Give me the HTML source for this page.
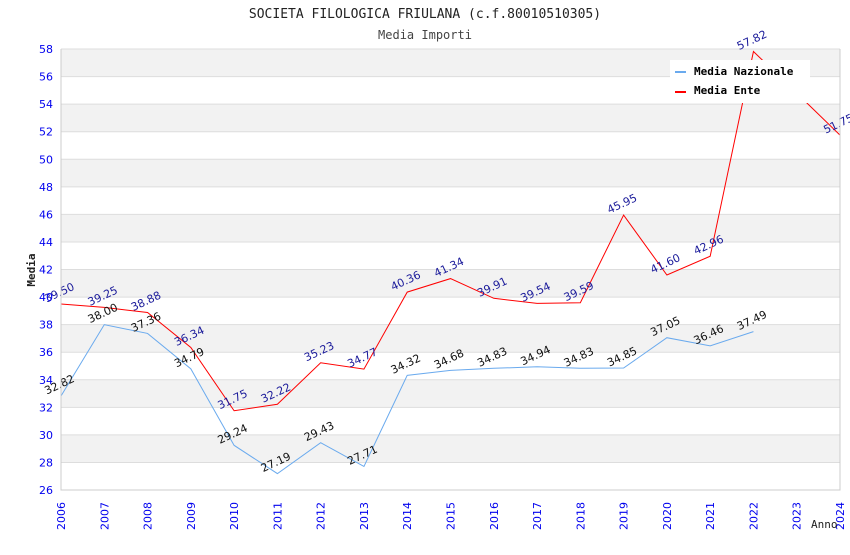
<!DOCTYPE html>
<html><head><meta charset="utf-8"><style>
body{margin:0;background:#fff;}
svg text{font-family:"DejaVu Sans Mono","Liberation Mono",monospace;}
svg text.sans{font-family:"DejaVu Sans","Liberation Sans",sans-serif;}
</style></head><body>
<svg id="chart" width="850" height="550" xmlns="http://www.w3.org/2000/svg">
<text x="425" y="18" text-anchor="middle" font-size="13" fill="#222">SOCIETA FILOLOGICA FRIULANA (c.f.80010510305)</text>
<text x="425" y="39" text-anchor="middle" font-size="12" fill="#444">Media Importi</text>
<g id="grid"></g><g id="series"></g><g id="labels"></g><g id="axes"></g>
<g>
<rect x="670" y="60" width="140" height="43" fill="#fff"/>
<line x1="675" y1="72" x2="686" y2="72" stroke="#6aaaee" stroke-width="2"/>
<text x="694" y="75" font-size="11" font-weight="bold" fill="#000">Media Nazionale</text>
<line x1="675" y1="92" x2="686" y2="92" stroke="#ff0000" stroke-width="2"/>
<text x="694" y="94" font-size="11" font-weight="bold" fill="#000">Media Ente</text>
</g>
<text x="35" y="270" font-size="11" font-weight="bold" fill="#222" transform="rotate(-90 35 270)" text-anchor="middle">Media</text>
<text x="811" y="528" font-size="11" fill="#222">Anno</text>
</svg>
<script>
const years=[2006,2007,2008,2009,2010,2011,2012,2013,2014,2015,2016,2017,2018,2019,2020,2021,2022,2023,2024];
const enteValues=[39.50,39.25,38.88,36.34,31.75,32.22,35.23,34.77,40.36,41.34,39.91,39.54,39.59,45.95,41.60,42.96,57.82,54.80,51.75];
const nazValues=[32.82,38.00,37.36,34.79,29.24,27.19,29.43,27.71,34.32,34.68,34.83,34.94,34.83,34.85,37.05,36.46,37.49];
const yTicks=[26,28,30,32,34,36,38,40,42,44,46,48,50,52,54,56,58];
const NS="http://www.w3.org/2000/svg";
const X0=61,X1=840,Y0=490,Y1=49;
const xs=y=>X0+(y-years[0])/(years[years.length-1]-years[0])*(X1-X0);
const ys=v=>Y0-(v-26)/(58-26)*(Y0-Y1);
function mk(tag,attrs,parent,txt){const e=document.createElementNS(NS,tag);for(const k in attrs)e.setAttribute(k,attrs[k]);if(txt!==undefined)e.textContent=txt;document.getElementById(parent).appendChild(e);return e;}
for(let i=0;i<yTicks.length-1;i++){
  const a=yTicks[i],b=yTicks[i+1];
  if(((58-b)/2)%2===0){const r=mk('rect',{x:X0,y:ys(b),width:X1-X0,height:ys(a)-ys(b),fill:'#f2f2f2'},'grid');
  
  }
}
yTicks.forEach(t=>{
  const l=mk('line',{x1:X0,x2:X1,y1:ys(t),y2:ys(t),stroke:'#dddddd'},'grid');
  
  
  const tx=mk('text',{class:'sans',x:X0-8,y:ys(t)+4,'text-anchor':'end','font-size':11,fill:'#0000ee'},'axes',t);
  
  
});
years.forEach(yr=>{
  const x=xs(yr);
  const tx=mk('text',{class:'sans',x:x+4,y:530,'font-size':11,fill:'#0000ee',transform:`rotate(-90 ${x+4} 530)`},'axes',yr);
  
  
});
const ax=mk('path',{d:`M${X0} ${Y1}V${Y0}H${X1}V${Y1}`,fill:'none',stroke:'#cccccc'},'axes');


function series(vals,color,lblColor,name,skip){
  const pts=vals.map((v,i)=>xs(years[i])+','+ys(v)).join(' ');
  const pl=mk('polyline',{points:pts,fill:'none',stroke:color,'stroke-width':1},'series');
  
  
  vals.forEach((v,i)=>{
    if(skip&&skip.includes(i))return;
    const x=xs(years[i]),y=ys(v)-8;
    const t=mk('text',{class:'sans',x:x,y:y,'text-anchor':'middle','font-size':11,fill:lblColor,transform:`rotate(-25 ${x} ${y})`},'labels',v.toFixed(2));
    
    
  });
}
series(nazValues,'#6aaaee','#111','nazionale');
series(enteValues,'#ff0000','#1a1a9a','ente',[17]);
</script>
</body></html>
